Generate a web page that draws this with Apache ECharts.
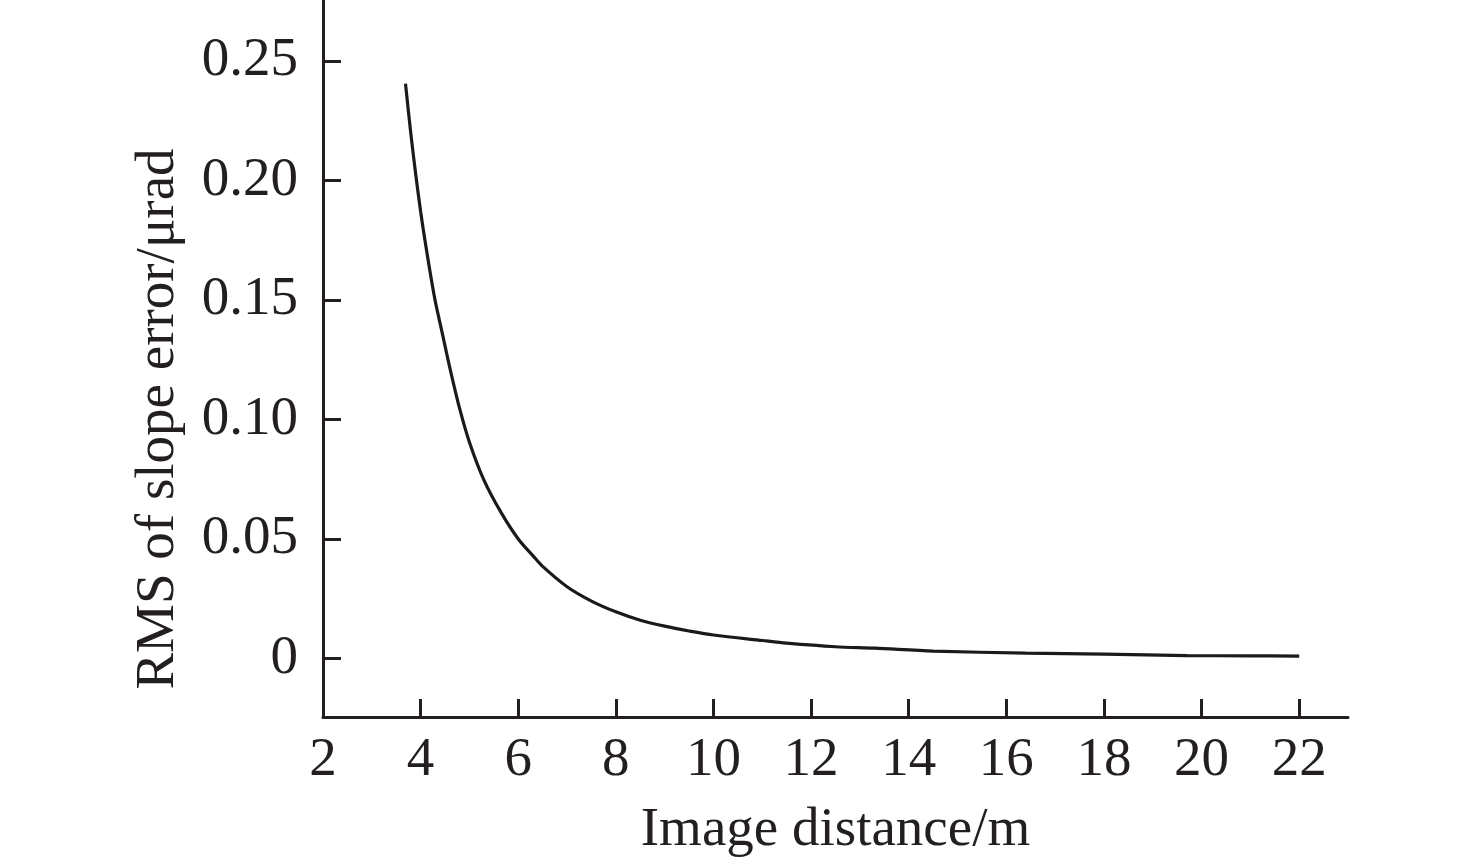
<!DOCTYPE html>
<html>
<head>
<meta charset="utf-8">
<script src="https://cdn.jsdelivr.net/npm/echarts@6/dist/echarts.min.js"></script>
<style>
html,body{margin:0;padding:0;background:#fff;}
#chart{width:1476px;height:865px;}
</style>
</head>
<body>
<div id="chart"></div>
<script>
// Data
var distance = [3.69, 3.8, 3.9, 4.0, 4.1, 4.2, 4.3, 4.45, 4.6, 4.8, 5.0, 5.3, 5.65, 6.0, 6.3, 6.5, 7.0, 7.5, 8.0, 8.5, 9.0, 9.5, 10, 11, 11.5, 12.5, 13.3, 14.5, 16.4, 18, 19.7, 21, 22];
var rmsError = [0.2405, 0.2195, 0.2025, 0.187, 0.1735, 0.161, 0.1495, 0.1355, 0.1215, 0.1045, 0.0905, 0.0745, 0.061, 0.050, 0.043, 0.0385, 0.030, 0.024, 0.0195, 0.016, 0.0135, 0.0115, 0.0098, 0.0075, 0.0064, 0.0049, 0.0043, 0.0031, 0.0022, 0.0018, 0.0012, 0.0011, 0.0010];
var xTickValues = [2, 4, 6, 8, 10, 12, 14, 16, 18, 20, 22];
var xTickMarks = [4, 6, 8, 10, 12, 14, 16, 18, 20, 22];
var yTickValues = [0, 0.05, 0.10, 0.15, 0.20, 0.25];
var yTickLabels = ['0', '0.05', '0.10', '0.15', '0.20', '0.25'];
var xAxisTitle = 'Image distance/m';
var yAxisTitle = 'RMS of slope error/\u03bcrad';

var ink = '#231f20';
var font = '"Liberation Serif", "Times New Roman", serif';

var points = distance.map(function (d, i) { return [d, rmsError[i]]; });

var chart = echarts.init(document.getElementById('chart'), null, {renderer: 'canvas'});
chart.setOption({
  animation: false,
  backgroundColor: '#ffffff',
  grid: {left: 323, right: 128, top: 0, bottom: 148, containLabel: false},
  xAxis: {
    type: 'value',
    min: 2,
    max: 23,
    name: xAxisTitle,
    nameLocation: 'middle',
    nameGap: 86,
    nameTextStyle: {fontFamily: font, fontSize: 55, color: ink},
    axisLine: {show: true, onZero: false, lineStyle: {color: ink, width: 3}},
    axisTick: {show: true, inside: true, length: 18, customValues: xTickMarks, lineStyle: {color: ink, width: 3}},
    axisLabel: {
      customValues: xTickValues,
      margin: 16,
      fontFamily: font, fontSize: 55, color: ink
    },
    splitLine: {show: false}
  },
  yAxis: {
    type: 'value',
    min: -0.0245,
    max: 0.2755,
    axisLine: {show: true, onZero: false, lineStyle: {color: ink, width: 3}},
    axisTick: {show: true, inside: true, length: 18, customValues: yTickValues, lineStyle: {color: ink, width: 3}},
    axisLabel: {
      customValues: yTickValues,
      margin: 25,
      fontFamily: font, fontSize: 55, color: ink,
      formatter: function (v) {
        for (var i = 0; i < yTickValues.length; i++) {
          if (Math.abs(yTickValues[i] - v) < 1e-9) return yTickLabels[i];
        }
        return '';
      }
    },
    splitLine: {show: false}
  },
  graphic: [{
    type: 'text',
    x: 159,
    y: 419,
    rotation: Math.PI / 2,
    style: {
      text: yAxisTitle,
      font: '55px ' + font,
      fill: ink,
      align: 'center',
      verticalAlign: 'middle'
    }
  }],
  series: [{
    type: 'line',
    data: points,
    smooth: 0.3,
    showSymbol: false,
    lineStyle: {color: '#1a1a1a', width: 3.2}
  }]
});
</script>
</body>
</html>
